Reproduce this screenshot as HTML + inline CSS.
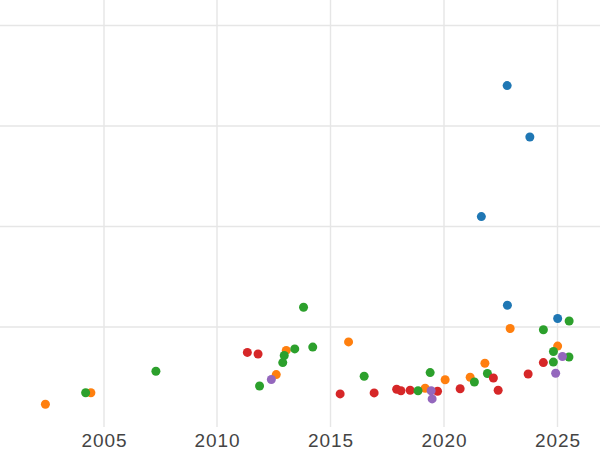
<!DOCTYPE html>
<html><head><meta charset="utf-8"><style>
html,body{margin:0;padding:0;background:#fff;width:600px;height:450px;overflow:hidden}
svg{position:absolute;left:0;top:0}
.t{position:absolute;top:429px;width:80px;text-align:center;font-family:"Liberation Sans",sans-serif;font-size:19px;color:#444;letter-spacing:0.9px;line-height:24px}
</style></head><body>
<svg width="600" height="450">
<line x1="104.0" y1="0" x2="104.0" y2="427" stroke="#e6e6e6" stroke-width="1.4"/>
<line x1="217.0" y1="0" x2="217.0" y2="427" stroke="#e6e6e6" stroke-width="1.4"/>
<line x1="330.5" y1="0" x2="330.5" y2="427" stroke="#e6e6e6" stroke-width="1.4"/>
<line x1="444.0" y1="0" x2="444.0" y2="427" stroke="#e6e6e6" stroke-width="1.4"/>
<line x1="557.5" y1="0" x2="557.5" y2="427" stroke="#e6e6e6" stroke-width="1.4"/>
<line x1="0" y1="25.5" x2="600" y2="25.5" stroke="#e6e6e6" stroke-width="1.4"/>
<line x1="0" y1="126.0" x2="600" y2="126.0" stroke="#e6e6e6" stroke-width="1.4"/>
<line x1="0" y1="226.45" x2="600" y2="226.45" stroke="#e6e6e6" stroke-width="1.4"/>
<line x1="0" y1="327.0" x2="600" y2="327.0" stroke="#e6e6e6" stroke-width="1.4"/>
<circle cx="45.40" cy="404.30" r="4.5" fill="#ff7f0e"/>
<circle cx="90.90" cy="392.80" r="4.5" fill="#ff7f0e"/>
<circle cx="85.65" cy="392.80" r="4.5" fill="#2ca02c"/>
<circle cx="155.90" cy="371.30" r="4.5" fill="#2ca02c"/>
<circle cx="247.35" cy="352.40" r="4.5" fill="#d62728"/>
<circle cx="258.05" cy="354.00" r="4.5" fill="#d62728"/>
<circle cx="286.25" cy="350.40" r="4.5" fill="#ff7f0e"/>
<circle cx="294.75" cy="348.90" r="4.5" fill="#2ca02c"/>
<circle cx="312.75" cy="347.10" r="4.5" fill="#2ca02c"/>
<circle cx="284.25" cy="355.50" r="4.5" fill="#2ca02c"/>
<circle cx="282.75" cy="362.60" r="4.5" fill="#2ca02c"/>
<circle cx="276.25" cy="374.60" r="4.5" fill="#ff7f0e"/>
<circle cx="271.35" cy="379.50" r="4.5" fill="#9467bd"/>
<circle cx="259.55" cy="386.00" r="4.5" fill="#2ca02c"/>
<circle cx="303.55" cy="307.20" r="4.5" fill="#2ca02c"/>
<circle cx="348.55" cy="341.90" r="4.5" fill="#ff7f0e"/>
<circle cx="364.15" cy="376.30" r="4.5" fill="#2ca02c"/>
<circle cx="340.15" cy="393.90" r="4.5" fill="#d62728"/>
<circle cx="374.15" cy="392.90" r="4.5" fill="#d62728"/>
<circle cx="396.65" cy="389.30" r="4.5" fill="#d62728"/>
<circle cx="400.95" cy="390.80" r="4.5" fill="#d62728"/>
<circle cx="410.15" cy="390.30" r="4.5" fill="#d62728"/>
<circle cx="425.15" cy="388.30" r="4.5" fill="#ff7f0e"/>
<circle cx="418.05" cy="390.70" r="4.5" fill="#2ca02c"/>
<circle cx="437.55" cy="391.30" r="4.5" fill="#d62728"/>
<circle cx="431.15" cy="390.80" r="4.5" fill="#9467bd"/>
<circle cx="432.15" cy="398.90" r="4.5" fill="#9467bd"/>
<circle cx="430.15" cy="372.60" r="4.5" fill="#2ca02c"/>
<circle cx="445.15" cy="379.80" r="4.5" fill="#ff7f0e"/>
<circle cx="507.15" cy="85.60" r="4.5" fill="#1f77b4"/>
<circle cx="529.85" cy="137.00" r="4.5" fill="#1f77b4"/>
<circle cx="481.35" cy="216.60" r="4.5" fill="#1f77b4"/>
<circle cx="507.40" cy="305.30" r="4.5" fill="#1f77b4"/>
<circle cx="557.65" cy="318.55" r="4.5" fill="#1f77b4"/>
<circle cx="569.15" cy="321.05" r="4.5" fill="#2ca02c"/>
<circle cx="510.15" cy="328.55" r="4.5" fill="#ff7f0e"/>
<circle cx="543.40" cy="329.80" r="4.5" fill="#2ca02c"/>
<circle cx="557.65" cy="346.10" r="4.5" fill="#ff7f0e"/>
<circle cx="553.45" cy="351.50" r="4.5" fill="#2ca02c"/>
<circle cx="568.95" cy="357.00" r="4.5" fill="#2ca02c"/>
<circle cx="562.45" cy="356.50" r="4.5" fill="#9467bd"/>
<circle cx="543.35" cy="362.60" r="4.5" fill="#d62728"/>
<circle cx="553.35" cy="362.10" r="4.5" fill="#2ca02c"/>
<circle cx="555.65" cy="373.30" r="4.5" fill="#9467bd"/>
<circle cx="528.15" cy="374.05" r="4.5" fill="#d62728"/>
<circle cx="484.90" cy="363.30" r="4.5" fill="#ff7f0e"/>
<circle cx="487.40" cy="373.55" r="4.5" fill="#2ca02c"/>
<circle cx="493.40" cy="378.05" r="4.5" fill="#d62728"/>
<circle cx="470.15" cy="377.30" r="4.5" fill="#ff7f0e"/>
<circle cx="474.40" cy="382.05" r="4.5" fill="#2ca02c"/>
<circle cx="460.15" cy="388.80" r="4.5" fill="#d62728"/>
<circle cx="498.15" cy="390.30" r="4.5" fill="#d62728"/>
</svg>
<div class="t" style="left:64.45px">2005</div><div class="t" style="left:177.45px">2010</div><div class="t" style="left:290.95px">2015</div><div class="t" style="left:404.45px">2020</div><div class="t" style="left:517.95px">2025</div>
</body></html>
